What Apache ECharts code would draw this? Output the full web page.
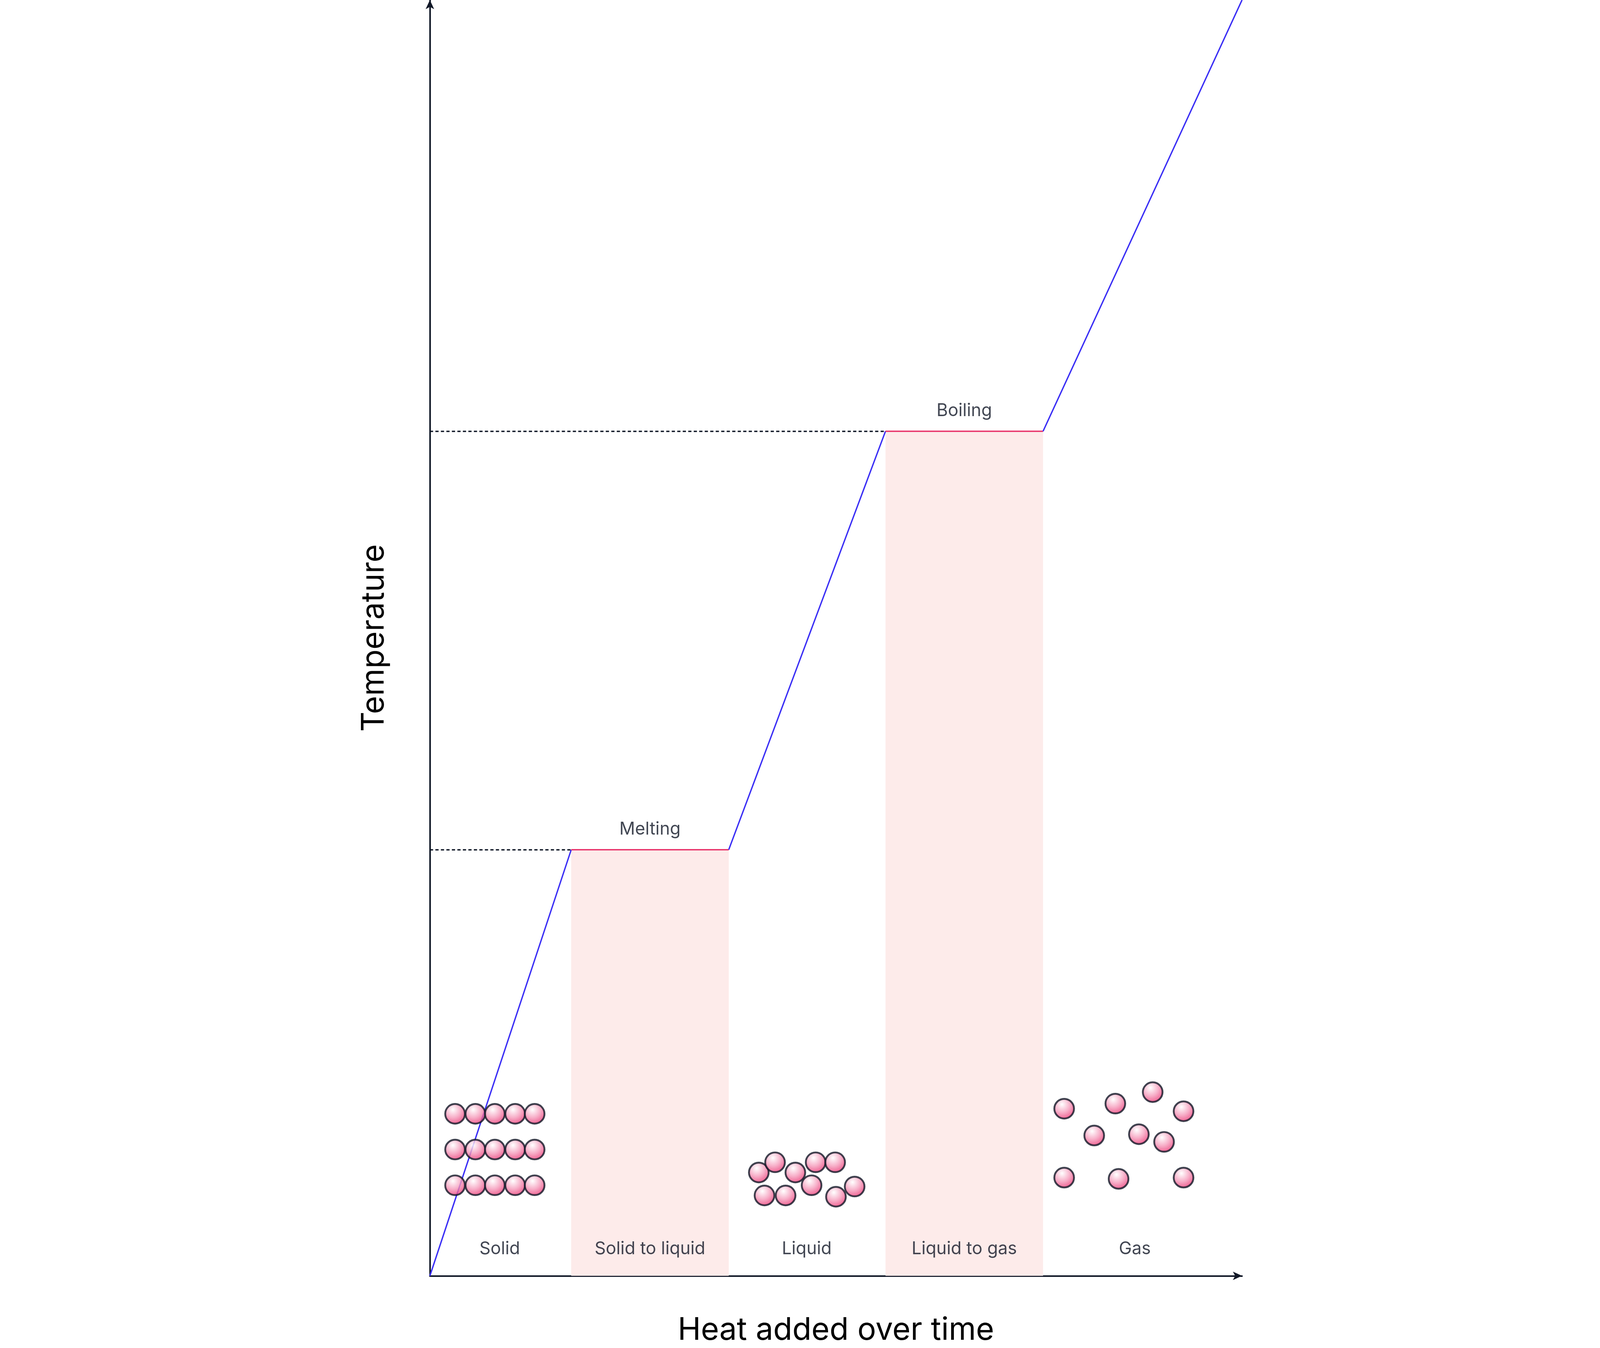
<!DOCTYPE html>
<html><head><meta charset="utf-8">
<script src="https://cdn.jsdelivr.net/npm/echarts@6/dist/echarts.min.js"></script>
<style>html,body{margin:0;padding:0;background:#fff;overflow:hidden}#c{width:100vw;height:100vh}</style>
</head><body><div id="c"></div>
<script>
const curveX = [0, 17.4, 36.8, 56.1, 75.5, 100];
const curveY = [0, 33.4, 33.4, 66.2, 66.2, 100];
const plateaus = [[17.4, 36.8, 33.4, 'Melting'], [56.1, 75.5, 66.2, 'Boiling']];
const phaseLabels = ['Solid', 'Solid to liquid', 'Liquid', 'Liquid to gas', 'Gas'];
const phaseLabelX = [8.6, 27.1, 46.4, 65.8, 86.8];
const solidCols = [3.1, 5.6, 8.0, 10.5, 12.9];
const solidRows = [12.7, 9.9, 7.1];
const liquidPts = [[40.5,8.1],[42.5,8.9],[45.0,8.1],[47.5,8.9],[49.9,8.9],[41.2,6.3],[43.8,6.3],[47.0,7.1],[50.0,6.2],[52.3,7.0]];
const gasPts = [[78.1,13.1],[84.4,13.5],[89.0,14.4],[92.8,12.9],[81.8,11.0],[87.3,11.1],[90.4,10.5],[78.1,7.7],[84.8,7.6],[92.8,7.7]];

const solidPts = [];
solidRows.forEach(y => solidCols.forEach(x => solidPts.push([x, y])));
const el = document.getElementById('c');
const s = el.clientWidth / 6986;
const ink = '#111827';
const font = 'Inter, "Noto Sans", sans-serif';
const ball = {
  color: {type:'radial', x:0.4, y:0.3, r:0.75, colorStops:[{offset:0,color:'#ffffff'},{offset:0.5,color:'#f59bbb'},{offset:1,color:'#e8286a'}]},
  borderColor: ink, borderWidth: 8*s
};
const line = curveX.map((x,i)=>[x,curveY[i]]);
const segs = [];
for (let i=0;i<line.length-1;i++){
  const flat = line[i][1]===line[i+1][1];
  segs.push({type:'line', data:[line[i],line[i+1]], symbol:'none', z:5,
    lineStyle:{color: flat?'#e8336a':'#3b2ff5', width:6*s}});
}
const axisCommon = {type:'value', min:0, max:100,
  axisLine:{show:true, lineStyle:{color:ink,width:7*s}, symbol:['none','arrow'], symbolSize:[28*s,40*s]},
  axisTick:{show:false}, axisLabel:{show:false}, splitLine:{show:false},
  nameLocation:'middle', nameTextStyle:{fontSize:136*s, color:'#000', fontFamily:font}};
const chart = echarts.init(el);
chart.setOption({
  animation:false,
  grid:{left:1877*s, right:1563*s, top:0, bottom:219*s, containLabel:false},
  xAxis:Object.assign({}, axisCommon, {name:'Heat added over time', nameGap:170*s}),
  yAxis:Object.assign({}, axisCommon, {name:'Temperature', nameGap:175*s}),
  series: segs.concat([
    {type:'line', data:[], markArea:{silent:true, itemStyle:{color:'#fdebea'},
      data: plateaus.map(p=>[{coord:[p[0],0]},{coord:[p[1],p[2]]}])},
     markLine:{silent:true, symbol:'none', lineStyle:{color:ink, type:[14*s,10*s], width:6*s},
      label:{show:false},
      data: plateaus.map(p=>[{coord:[0,p[2]]},{coord:[p[0],p[2]]}])}},
    {type:'scatter', symbolSize:0, data: plateaus.map(p=>[(p[0]+p[1])/2, p[2]]),
      label:{show:true, position:'top', distance:50*s, formatter:(d)=>plateaus[d.dataIndex][3], fontSize:76*s, color:ink, fontFamily:font}},
    {type:'scatter', symbolSize:0, data: phaseLabelX.map(x=>[x,2.1]),
      label:{show:true, position:'inside', formatter:(d)=>phaseLabels[d.dataIndex], fontSize:76*s, color:ink, fontFamily:font}},
    {type:'scatter', symbolSize:86*s, data: solidPts, itemStyle:ball, z:6},
    {type:'scatter', symbolSize:86*s, data: liquidPts, itemStyle:ball, z:6},
    {type:'scatter', symbolSize:86*s, data: gasPts, itemStyle:ball, z:6}
  ])
});
</script></body></html>
